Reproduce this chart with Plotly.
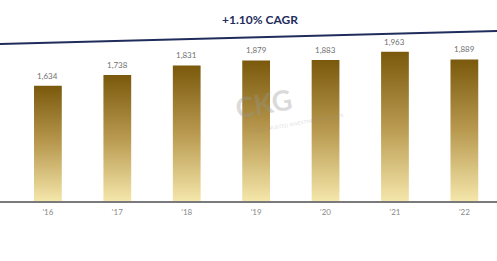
import plotly.graph_objects as go

# ---- data ----
years = ["'16", "'17", "'18", "'19", "'20", "'21", "'22"]
values = [1634, 1738, 1831, 1879, 1883, 1963, 1889]
cagr_label = "+1.10% CAGR"

# ---- style ----
base_val = 518
y_top = 2464
bar_half = 0.20
dark = "#7a590c"
mid = "#b8994f"
light = "#f4e6aa"
navy = "#1f2d5c"

fig = go.Figure()

for i, (yr, v) in enumerate(zip(years, values)):
    xs = [i - bar_half, i + bar_half, i + bar_half, i - bar_half, i - bar_half]
    ys = [base_val, base_val, v, v, base_val]
    fig.add_trace(go.Scatter(
        x=xs, y=ys, mode="lines", fill="toself",
        line=dict(width=0, color=dark),
        fillgradient=dict(type="vertical", start=base_val, stop=v,
                          colorscale=[[0, light], [0.5, mid], [1, dark]]),
        hoverinfo="skip", showlegend=False,
    ))
    fig.add_annotation(x=i, y=v, text=f"{v:,}", showarrow=False,
                       yanchor="bottom", yshift=3,
                       font=dict(family="Lato", size=8, color="#707070"))

# CAGR line and label
fig.add_shape(type="line", xref="paper", yref="paper",
              x0=0, y0=0.781, x1=1, y1=0.846,
              line=dict(color=navy, width=2))
fig.add_annotation(xref="paper", yref="paper", x=0.523, y=0.905,
                   yanchor="middle", xanchor="center",
                   text=f"<b>{cagr_label}</b>", showarrow=False,
                   font=dict(family="Lato", size=12, color=navy))

# watermark
fig.add_annotation(xref="paper", yref="paper", x=0.53, y=0.49,
                   yanchor="middle", xanchor="center",
                   text="<b>CKG</b>", showarrow=False, textangle=-10,
                   font=dict(family="Lato", size=28, color="rgba(150,150,150,0.35)"))
fig.add_annotation(xref="paper", yref="paper", x=0.60, y=0.39,
                   yanchor="middle", xanchor="center",
                   text="YOUR TRUSTED INVESTMENT PARTNER", showarrow=False, textangle=-10,
                   font=dict(family="Lato", size=5, color="rgba(150,150,150,0.35)"))

fig.update_layout(
    width=497, height=261,
    margin=dict(l=0, r=0, t=0, b=60),
    plot_bgcolor="white", paper_bgcolor="white",
    xaxis=dict(range=[-0.69, 6.47], tickvals=list(range(len(years))), ticktext=years,
               showgrid=False, zeroline=False, showline=True, linecolor="#7a7a7a",
               linewidth=1.5, ticks="", ticklabelstandoff=3,
               tickfont=dict(family="Lato", size=8, color="#888888")),
    yaxis=dict(range=[base_val, y_top], visible=False, showgrid=False, zeroline=False),
)

fig.write_html("out.html")
